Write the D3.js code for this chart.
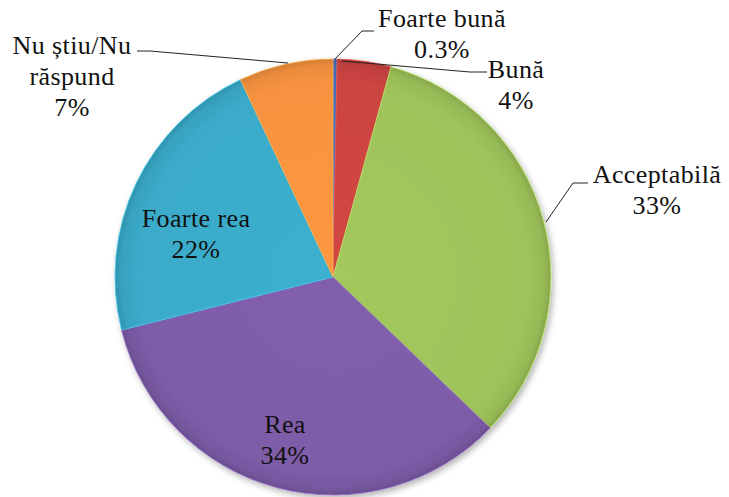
<!DOCTYPE html>
<html><head><meta charset="utf-8"><script src="https://cdn.jsdelivr.net/npm/d3@7"></script></head>
<body style="margin:0">
<svg id="c" width="729" height="497"></svg>
<script>
// ---- data ----
const categories = ["Foarte bună", "Bună", "Acceptabilă", "Rea", "Foarte rea", "Nu știu/Nu răspund"];
const values = [0.3, 4, 33, 34, 22, 7];
const valueLabels = ["0.3%", "4%", "33%", "34%", "22%", "7%"];
const colors = ["#4270b8", "#cc4441", "#9ec35a", "#7d5ca8", "#3aabc9", "#f7933f"];

// ---- layout (not data) ----
const cx = 333, cy = 277, R = 218;
const labelLines = [
  ["Foarte bună", "0.3%"],
  ["Bună", "4%"],
  ["Acceptabilă", "33%"],
  ["Rea", "34%"],
  ["Foarte rea", "22%"],
  ["Nu știu/Nu", "răspund", "7%"]
];
const labelPos = [
  [442, 27], [516, 78], [657, 183], [285, 433], [196, 227], [72, 54]
];
const leaderLines = [
  [[335, 59], [362, 31], [374, 31]],
  [[342, 61], [470, 72], [487, 72]],
  [[546, 222], [573, 183], [588, 183]],
  null,
  null,
  [[288, 63], [150, 51], [137, 51]]
];

const svg = d3.select("#c");
const defs = svg.append("defs");

const f = defs.append("filter").attr("id", "shadow")
  .attr("x", "-10%").attr("y", "-10%").attr("width", "120%").attr("height", "120%");
f.append("feDropShadow").attr("dx", 2).attr("dy", 3).attr("stdDeviation", 3)
  .attr("flood-color", "#000").attr("flood-opacity", 0.3);

colors.forEach((c, i) => {
  const g = defs.append("radialGradient").attr("id", "grad" + i)
    .attr("gradientUnits", "userSpaceOnUse")
    .attr("cx", 0).attr("cy", 0).attr("r", R);
  const base = d3.color(c);
  g.append("stop").attr("offset", "0%").attr("stop-color", base.brighter(0.08).formatHex());
  g.append("stop").attr("offset", "90%").attr("stop-color", base.formatHex());
  g.append("stop").attr("offset", "97%").attr("stop-color", base.darker(0.15).formatHex());
  g.append("stop").attr("offset", "100%").attr("stop-color", base.darker(0.45).formatHex());
});

const pie = d3.pie().sort(null).value(d => d).startAngle(0).endAngle(2 * Math.PI);
const arcs = pie(values);
const arc = d3.arc().innerRadius(0).outerRadius(R);

const gPie = svg.append("g").attr("transform", `translate(${cx},${cy})`);
gPie.append("g").attr("filter", "url(#shadow)")
  .selectAll("path").data(arcs).enter().append("path")
  .attr("d", arc)
  .attr("fill", (d, i) => `url(#grad${i})`)
  .attr("stroke", (d, i) => d3.color(colors[i]).brighter(0.5).formatHex())
  .attr("stroke-width", 0.8)
  .attr("stroke-linejoin", "round");

const line = d3.line();
svg.append("g").selectAll("path")
  .data(leaderLines.filter(d => d))
  .enter().append("path")
  .attr("d", d => line(d))
  .attr("fill", "none")
  .attr("stroke", "#222")
  .attr("stroke-width", 1);

const flat = [];
labelLines.forEach((lines, i) => {
  lines.forEach((s, k) => flat.push({ s, x: labelPos[i][0], y: labelPos[i][1] + k * 31 }));
});

svg.selectAll("text").data(flat).enter().append("text")
  .attr("x", d => d.x)
  .attr("y", d => d.y)
  .attr("font-size", 26)
  .attr("fill", "#111")
  .attr("text-anchor", "middle")
  .style("font-family", `"Liberation Serif", "Times New Roman", "Tinos", monospace`)
  .style("letter-spacing", "0.4px")
  .text(d => d.s);
</script></body></html>
